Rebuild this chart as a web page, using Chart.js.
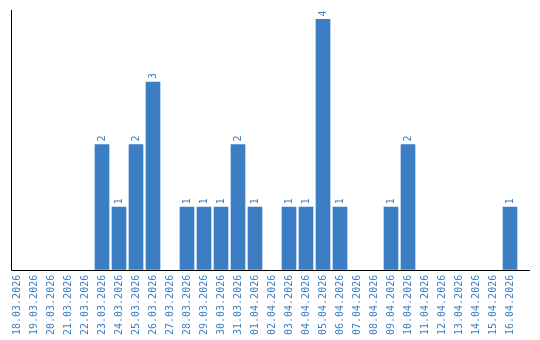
<!DOCTYPE html>
<html>
<head>
<meta charset="utf-8">
<script src="https://cdn.jsdelivr.net/npm/chart.js@4"></script>
<style>
html,body{margin:0;padding:0;background:#fff;}
#wrap{width:540px;height:340px;position:relative;}
</style>
</head>
<body>
<div id="wrap"><canvas id="c" width="540" height="340"></canvas></div>
<script>
const categories = ["18.03.2026","19.03.2026","20.03.2026","21.03.2026","22.03.2026","23.03.2026","24.03.2026","25.03.2026","26.03.2026","27.03.2026","28.03.2026","29.03.2026","30.03.2026","31.03.2026","01.04.2026","02.04.2026","03.04.2026","04.04.2026","05.04.2026","06.04.2026","07.04.2026","08.04.2026","09.04.2026","10.04.2026","11.04.2026","12.04.2026","13.04.2026","14.04.2026","15.04.2026","16.04.2026"];
const counts = [0,0,0,0,0,2,1,2,3,0,1,1,1,2,1,0,1,1,4,1,0,0,1,2,0,0,0,0,0,1];

const BLUE = '#3b7ec3';
const FONT = '"DejaVu Sans Mono", monospace';

const axisLines = {
  id: 'axisLines',
  afterDraw(chart) {
    const {ctx, chartArea} = chart;
    ctx.save();
    ctx.strokeStyle = '#000';
    ctx.lineWidth = 1;
    ctx.beginPath();
    const lx = Math.round(chartArea.left + 2) + 0.5;
    const by = Math.round(chartArea.bottom) + 0.5;
    ctx.moveTo(lx, chartArea.top);
    ctx.lineTo(lx, by);
    ctx.lineTo(chartArea.right + 11.5, by);
    ctx.stroke();
    ctx.restore();
  }
};

const valueLabels = {
  id: 'valueLabels',
  afterDatasetsDraw(chart) {
    const {ctx} = chart;
    const meta = chart.getDatasetMeta(0);
    ctx.save();
    ctx.fillStyle = BLUE;
    ctx.font = '10px ' + FONT;
    ctx.textAlign = 'left';
    ctx.textBaseline = 'middle';
    meta.data.forEach((bar, i) => {
      const v = counts[i];
      if (!v) return;
      ctx.save();
      ctx.translate(bar.x, bar.y - 3);
      ctx.rotate(-Math.PI / 2);
      ctx.fillText(String(v), 0, 0);
      ctx.restore();
    });
    ctx.restore();
  }
};

new Chart(document.getElementById('c'), {
  type: 'bar',
  data: {
    labels: categories,
    datasets: [{
      data: counts.map(v => v === 0 ? null : v),
      backgroundColor: BLUE,
      borderWidth: 0,
      barThickness: 14
    }]
  },
  options: {
    responsive: false,
    animation: false,
    devicePixelRatio: 1,
    layout: { padding: { left: 8.5, right: 21.5, top: 10, bottom: 0 } },
    plugins: { legend: { display: false }, tooltip: { enabled: false } },
    scales: {
      x: {
        grid: { display: false, drawTicks: false },
        border: { display: false },
        ticks: {
          autoSkip: false,
          minRotation: 90,
          maxRotation: 90,
          padding: 5,
          color: BLUE,
          font: { family: FONT, size: 10 }
        }
      },
      y: {
        display: false,
        min: 0,
        max: 4.15
      }
    }
  },
  plugins: [axisLines, valueLabels]
});
</script>
</body>
</html>
